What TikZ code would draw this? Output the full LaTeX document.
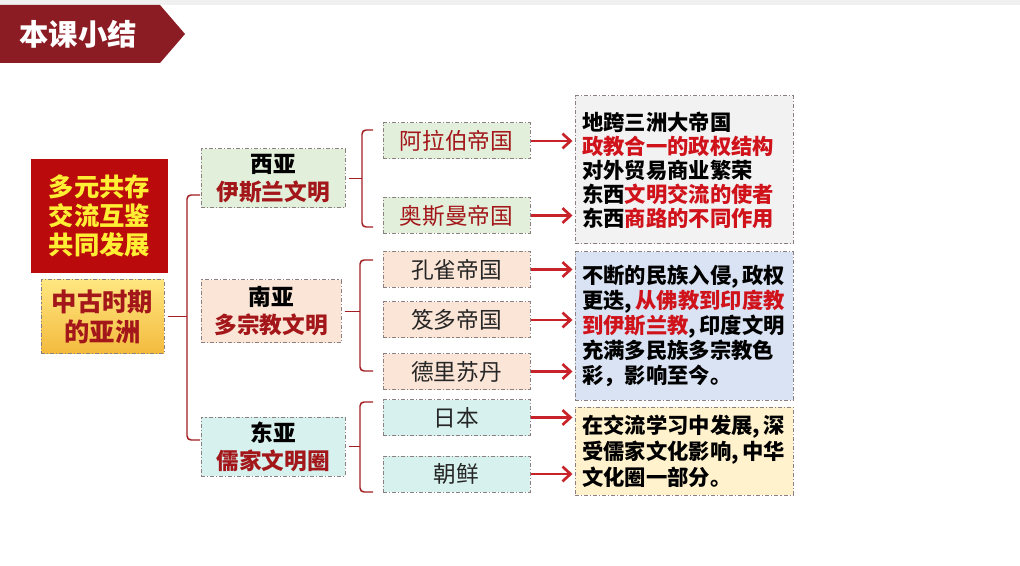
\documentclass[tikz,border=0pt]{standalone}
\usepackage{fontspec}
\setmainfont{Noto Sans CJK SC}
\usetikzlibrary{arrows.meta,calc}
\definecolor{titlered}{HTML}{8C1C24}
\definecolor{keyred}{HTML}{BA0A0C}
\definecolor{keyyellow}{HTML}{FFEE33}
\definecolor{goldtop}{HTML}{FFE680}
\definecolor{goldbot}{HTML}{F3BB3E}
\definecolor{dred}{HTML}{A3161A}
\definecolor{bred}{HTML}{D0121B}
\definecolor{cgreen}{HTML}{E2EFDA}
\definecolor{cpink}{HTML}{FBE5D6}
\definecolor{ccyan}{HTML}{D7F2EE}
\definecolor{dgrey}{HTML}{F2F2F2}
\definecolor{dblue}{HTML}{DAE3F3}
\definecolor{dyellow}{HTML}{FFF2CC}
\definecolor{boxline}{HTML}{8C7F7F}
\definecolor{brcol}{HTML}{A31E22}
\definecolor{arrcol}{HTML}{C8232A}
\definecolor{txtgrey}{HTML}{262626}
\newcommand\mybrc[5]{%
  \coordinate (tmpV) at (#2,0);
  \draw[brc,rounded corners=3pt] (#5,#3) -| (#2,#4) -- (#5,#4);
  \draw[brc] ($(#1.east)+(3,0)$) -- (#1.east -| tmpV);
}
\newcommand\cm{,\hspace{2.5pt}}
\begin{document}
\begin{tikzpicture}[x=0.75pt,y=-0.75pt,
  dbox/.style={draw=boxline,line width=0.75pt,dash pattern=on 3pt off 1.5pt on 0.8pt off 1.5pt,inner sep=0pt,align=center},
  catbox/.style={dbox,minimum width=108pt,minimum height=44.25pt,font=\fontsize{17}{21}\selectfont\bfseries},
  subbox/.style={dbox,minimum width=110.25pt,minimum height=27pt,font=\fontsize{17}{20}\selectfont,text=txtgrey},
  descbox/.style={dbox,minimum width=163.5pt,text width=153pt,inner xsep=5.25pt,align=left,font=\fontsize{16}{18.75}\selectfont\bfseries},
  brc/.style={draw=brcol,line width=1.1pt},
  arr/.style={draw=arrcol,line width=2pt,-{Straight Barb[length=6pt,width=11pt,line width=2pt]}}
]
\useasboundingbox (0,0) rectangle (1020,566);
\fill[white] (0,0) rectangle (1020,566);
\fill[gray!12] (0,0) rectangle (1020,5);
% title banner
\fill[titlered] (0,5) -- (160,5) -- (185,34) -- (160,63) -- (0,63) -- cycle;
\node[text=white,font=\fontsize{22}{26}\selectfont\bfseries] (title) at (78,34) {本课小结};
% left boxes
\node[fill=keyred,minimum width=102.75pt,minimum height=85.5pt,inner sep=0pt,align=center,text=keyyellow,font=\fontsize{19}{21.75}\selectfont\bfseries] (key) at (99.5,216) {多元共存\\交流互鉴\\共同发展};
\node[dbox,top color=goldtop,bottom color=goldbot,minimum width=92.25pt,minimum height=54.75pt,text=dred,font=\fontsize{19}{22.5}\selectfont\bfseries] (asia) at (102.5,316.5) {中古时期\\的亚洲};
% categories
\node[catbox,fill=cgreen] (xiya) at (273,178.5) {西亚\\\textcolor{dred}{伊斯兰文明}};
\node[catbox,fill=cpink,minimum width=105pt,minimum height=47.25pt] (nanya) at (271,311.5) {南亚\\\textcolor{dred}{多宗教文明}};
\node[catbox,fill=ccyan] (dongya) at (273,446.5) {东亚\\\textcolor{dred}{儒家文明圈}};
% sub items
\node[subbox,fill=cgreen,text=dred] (alb) at (456.5,141) {阿拉伯帝国};
\node[subbox,fill=cgreen,text=dred] (asm) at (456.5,215.5) {奥斯曼帝国};
\node[subbox,fill=cpink] (kq) at (456.5,269.5) {孔雀帝国};
\node[subbox,fill=cpink] (jd) at (456.5,320) {笈多帝国};
\node[subbox,fill=cpink] (dl) at (456.5,371.5) {德里苏丹};
\node[subbox,fill=ccyan] (rb) at (456.5,417.5) {日本};
\node[subbox,fill=ccyan] (cx) at (456.5,474) {朝鲜};
% description boxes
\node[descbox,fill=dgrey,minimum height=111pt,font=\fontsize{16}{18}\selectfont\bfseries] (d1) at (684,170) {地跨三洲大帝国\\\textcolor{bred}{政教合一的政权结构}\\对外贸易商业繁荣\\东西\textcolor{bred}{文明交流的使者}\\东西\textcolor{bred}{商路的不同作用}\\[-8pt]};
\node[descbox,fill=dblue,minimum height=111pt] (d2) at (684,326) {不断的民族入侵\cm 政权\\更迭\cm\textcolor{bred}{从佛教到印度教}\\\textcolor{bred}{到伊斯兰教}\cm 印度文明\\充满多民族多宗教色\\彩，影响至今。\\[-5pt]};
\node[descbox,fill=dyellow,minimum height=66pt,font=\fontsize{16}{19.5}\selectfont\bfseries] (d3) at (684,451) {在交流学习中发展\cm 深\\受儒家文化影响\cm 中华\\文化圈一部分。};
% braces
\mybrc{asia}{187}{195}{440}{200}
\mybrc{xiya}{362}{130}{227}{373}
\mybrc{nanya}{360}{260}{371}{373}
\mybrc{dongya}{360}{402}{492}{373}
% arrows
\draw[arr] (alb.east) -- ([xshift=-1.5pt]alb.east -| d1.west);
\draw[arr] (asm.east) -- ([xshift=-1.5pt]asm.east -| d1.west);
\draw[arr] (kq.east) -- ([xshift=-1.5pt]kq.east -| d2.west);
\draw[arr] (jd.east) -- ([xshift=-1.5pt]jd.east -| d2.west);
\draw[arr] (dl.east) -- ([xshift=-1.5pt]dl.east -| d2.west);
\draw[arr] (rb.east) -- ([xshift=-1.5pt]rb.east -| d3.west);
\draw[arr] (cx.east) -- ([xshift=-1.5pt]cx.east -| d3.west);
\end{tikzpicture}
\end{document}
